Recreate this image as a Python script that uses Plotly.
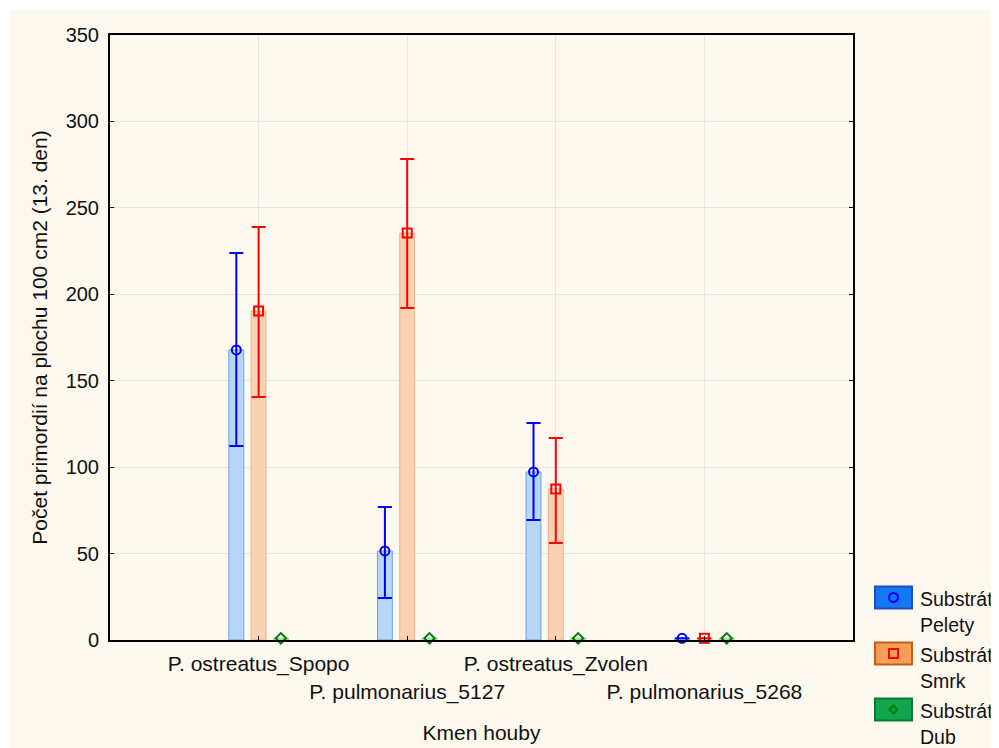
import plotly.graph_objects as go

categories = ["P. ostreatus_Spopo", "P. pulmonarius_5127", "P. ostreatus_Zvolen", "P. pulmonarius_5268"]
series_names = ["Substrát: Pelety", "Substrát: Smrk", "Substrát: Dub"]
legend_line1 = ["Substrát", "Substrát", "Substrát"]
legend_line2 = ["Pelety", "Smrk", "Dub"]

pelety_mean = [167.8, 51.5, 97.2, 1.0]
pelety_upper = [223.9, 76.9, 125.5, None]
pelety_lower = [112.2, 24.3, 69.4, None]

smrk_mean = [190.3, 235.4, 87.4, 1.0]
smrk_upper = [238.9, 278.3, 116.9, None]
smrk_lower = [140.6, 192.1, 56.1, None]

dub_mean = [1.0, 1.0, 1.0, 1.0]

y_ticks = [0, 50, 100, 150, 200, 250, 300, 350]

means = [pelety_mean, smrk_mean, dub_mean]
uppers = [pelety_upper, smrk_upper, None]
lowers = [pelety_lower, smrk_lower, None]

offsets = [-0.15, 0.0, 0.15]
bar_fill = ["#b8d6f8", "#f9d2b3", "#d6efd9"]
bar_line = ["#6f9fe8", "#e8b48c", "#8fcf9a"]
err_col = ["#0000ff", "#ff0000", "#008000"]
symbols = ["circle-open", "square-open", "diamond-open"]
msize = [9, 9, 8]
leg_fill = ["#1478f0", "#f59e5a", "#12a650"]
leg_line = ["#1f4fc2", "#c25f1c", "#0b7a32"]

positions = list(range(1, len(categories) + 1))

fig = go.Figure()

for i in range(3):
    xs = [p + offsets[i] for p in positions]
    err = None
    if uppers[i] is not None:
        plus = [(u - m) if u is not None else None for u, m in zip(uppers[i], means[i])]
        minus = [(m - l) if l is not None else None for l, m in zip(lowers[i], means[i])]
        err = dict(type="data", symmetric=False, array=plus, arrayminus=minus,
                   color=err_col[i], thickness=2, width=7)
    fig.add_trace(go.Bar(
        x=xs, y=means[i], width=0.1, name=series_names[i],
        marker=dict(color=bar_fill[i], line=dict(color=bar_line[i], width=1)),
        error_y=err, showlegend=False, hoverinfo="skip",
    ))

for i in range(3):
    xs = [p + offsets[i] for p in positions]
    fig.add_trace(go.Scatter(
        x=xs, y=means[i], mode="markers", name=series_names[i],
        marker=dict(symbol=symbols[i], size=msize[i], color=err_col[i],
                    line=dict(width=2, color=err_col[i])),
        showlegend=False, cliponaxis=False,
    ))

ticktext = [c if k % 2 == 0 else "<br>" + c for k, c in enumerate(categories)]

W, H = 991, 740
L, R, T, B = 102, 146, 27, 108
pw, ph = W - L - R, H - T - B

def px_x(x):
    return (x - L) / pw

def px_y(y):
    return (H - B - y) / ph

shapes = [
    dict(type="rect", xref="paper", yref="paper", layer="below",
         x0=px_x(2), x1=px_x(W + 5), y0=px_y(H + 5), y1=px_y(2),
         fillcolor="#fdf9ef", line=dict(width=0)),
]
annotations = []
leg_y = [589.5, 645.5, 701.5]
for i in range(3):
    shapes.append(dict(type="rect", xref="paper", yref="paper",
                       x0=px_x(867), x1=px_x(904), y0=px_y(leg_y[i] + 11), y1=px_y(leg_y[i] - 11),
                       fillcolor=leg_fill[i], line=dict(color=leg_line[i], width=2)))
    cx, cy = px_x(885.5), px_y(leg_y[i])
    if i == 0:
        shapes.append(dict(type="circle", xref="paper", yref="paper", xsizemode="pixel", ysizemode="pixel",
                           xanchor=cx, yanchor=cy, x0=-4.5, x1=4.5, y0=-4.5, y1=4.5,
                           line=dict(color="#0000ff", width=2)))
    elif i == 1:
        shapes.append(dict(type="rect", xref="paper", yref="paper", xsizemode="pixel", ysizemode="pixel",
                           xanchor=cx, yanchor=cy, x0=-4.5, x1=4.5, y0=-4.5, y1=4.5,
                           line=dict(color="#ff0000", width=2)))
    else:
        shapes.append(dict(type="path", xref="paper", yref="paper", xsizemode="pixel", ysizemode="pixel",
                           xanchor=cx, yanchor=cy, path="M -4 0 L 0 4 L 4 0 L 0 -4 Z",
                           line=dict(color="#008000", width=2)))
    annotations.append(dict(xref="paper", yref="paper", x=px_x(911), y=px_y(leg_y[i] + 1),
                            xanchor="left", yanchor="middle", showarrow=False, borderpad=0,
                            text=legend_line1[i], font=dict(size=19.5, color="#111111")))
    annotations.append(dict(xref="paper", yref="paper", x=px_x(911), y=px_y(leg_y[i] + 27),
                            xanchor="left", yanchor="middle", showarrow=False, borderpad=0,
                            text=legend_line2[i], font=dict(size=19.5, color="#111111")))

fig.update_layout(
    width=W, height=H,
    margin=dict(l=L, r=R, t=T, b=B, autoexpand=False),
    paper_bgcolor="white", plot_bgcolor="white",
    font=dict(family="Liberation Sans, Arial, sans-serif", size=20, color="#111111"),
    barmode="overlay",
    shapes=shapes, annotations=annotations,
    xaxis=dict(range=[0, 5], tickvals=positions, ticktext=ticktext, tickangle=0,
               tickfont=dict(size=21), ticklabelstandoff=4,
               showgrid=True, gridcolor="#e6e6e6", gridwidth=1,
               showline=True, linecolor="black", linewidth=2, mirror=True,
               ticks="inside", ticklen=4, tickcolor="black", zeroline=False,
               title=dict(text="Kmen houby", standoff=23, font=dict(size=21)), automargin=False),
    yaxis=dict(range=[0, 350], tickvals=y_ticks,
               tickfont=dict(size=20), ticklabelstandoff=5,
               showgrid=True, gridcolor="#e6e6e6", gridwidth=1,
               showline=True, linecolor="black", linewidth=2, mirror="ticks",
               ticks="inside", ticklen=4, tickcolor="black", zeroline=False,
               title=dict(text="Počet primordií na plochu 100 cm2 (13. den)", standoff=12,
                          font=dict(size=21)),
               automargin=False),
)

fig.write_html("out.html")
